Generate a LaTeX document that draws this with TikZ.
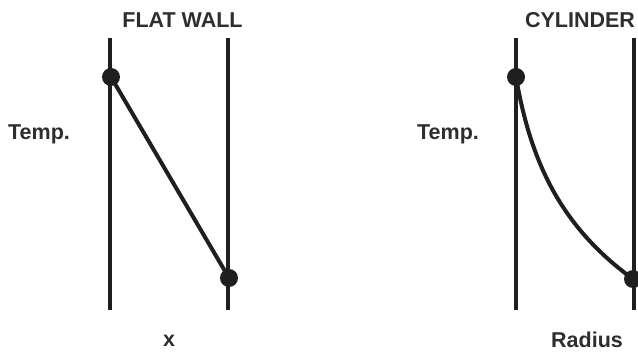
\documentclass[tikz,border=0pt]{standalone}
\usepackage{fontspec}
\setmainfont{Liberation Sans}
\begin{document}
\begin{tikzpicture}[x=1pt,y=-1pt,
  wall/.style={line width=3.5pt,black!88},
  profile/.style={line width=4pt,black!88},
  dot/.style={circle,fill=black!88,inner sep=0pt,minimum size=18pt},
  lbl/.style={anchor=base,inner sep=0pt,font=\fontsize{21.5}{26}\selectfont\bfseries,text=black!82}]
\useasboundingbox (0,0) rectangle (638,352);
\clip (0,0) rectangle (638,352);
% flat wall
\coordinate (w1t) at (110,38); \coordinate (w1b) at (110,310);
\coordinate (w2t) at (228,38); \coordinate (w2b) at (228,310);
\draw[wall] (w1t) -- (w1b);
\draw[wall] (w2t) -- (w2b);
\node[dot] (fa) at (111,77) {};
\node[dot] (fb) at (229,278) {};
\draw[profile] (fa.center) -- (fb.center);
\node[lbl] (t1) at (182.5,28) {FLAT WALL};
\node[lbl,anchor=base west] (tp1) at (8,140) {Temp.};
\node[lbl] (xl) at (169,347) {x};
% cylinder
\coordinate (c1t) at (516,38); \coordinate (c1b) at (516,310);
\coordinate (c2t) at (634,38); \coordinate (c2b) at (634,310);
\draw[wall] (c1t) -- (c1b);
\draw[wall] (c2t) -- (c2b);
\node[dot] (ca) at (516,77) {};
\node[dot] (cb) at (633,279) {};
\draw[profile] plot[domain=0:1,samples=60,smooth] ({516+117*\x},{77+202*(1-ln(8/(1+7*\x))/ln(8))});
\node[lbl] (t2) at (580,28) {CYLINDER};
\node[lbl,anchor=base west] (tp2) at (417,140) {Temp.};
\node[lbl] (rl) at (587,348) {Radius};
\end{tikzpicture}
\end{document}
